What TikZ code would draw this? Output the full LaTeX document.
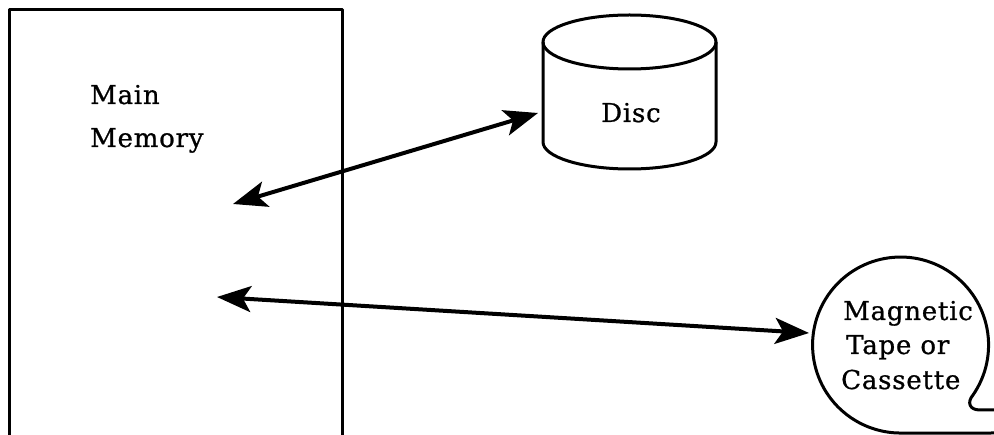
\documentclass[tikz,border=0pt]{standalone}
\usepackage{fontspec}
\setmainfont{DejaVu Serif}[LetterSpace=3,FakeBold=0.8]
\usetikzlibrary{arrows.meta}
\tikzset{
  outline/.style={draw=black, line width=3pt, line join=round},
  lbl/.style={font=\fontsize{26}{30}\selectfont, inner sep=0pt, anchor=base west},
  dblarrow/.style={line width=4pt,
    {Stealth[length=34pt,width=26pt,inset=8pt]}-{Stealth[length=34pt,width=26pt,inset=8pt]}},
}
\begin{document}
\begin{tikzpicture}[x=1pt,y=-1pt]
\useasboundingbox (0,0) rectangle (994,435);
% main memory box (open at the bottom)
\draw[outline] (9,435) -- (9,10) -- (342,10) -- (342,435);
\node[lbl] (mainA) at (90,104) {Main};
\node[lbl] (mainB) at (90,147) {Memory};
% disc cylinder
\draw[outline] (543,42) -- (543,142) arc[start angle=180,end angle=0,x radius=86.5,y radius=27] -- (716,42);
\draw[outline] (629.5,42) ellipse[x radius=86.5,y radius=27];
\node[lbl, anchor=base] (disc) at (631,122) {Disc};
% magnetic tape reel
\draw[outline] (994,410) -- (980,410) .. controls (969,410) and (967,402) .. (973,395)
  arc[start angle=34.6,end angle=-270,radius=88] -- (994,433);
\node[lbl] (tapeA) at (843,320) {Magnetic};
\node[lbl] (tapeB) at (846,354) {Tape or};
\node[lbl] (tapeC) at (841,389) {Cassette};
% connector end points
\coordinate (memDisc) at (233,204);
\coordinate (discIn) at (538,113);
\coordinate (memTape) at (217,297);
\coordinate (tapeIn) at (809,333);
\draw[dblarrow] (memDisc) -- (discIn);
\draw[dblarrow] (memTape) -- (tapeIn);
\end{tikzpicture}
\end{document}
